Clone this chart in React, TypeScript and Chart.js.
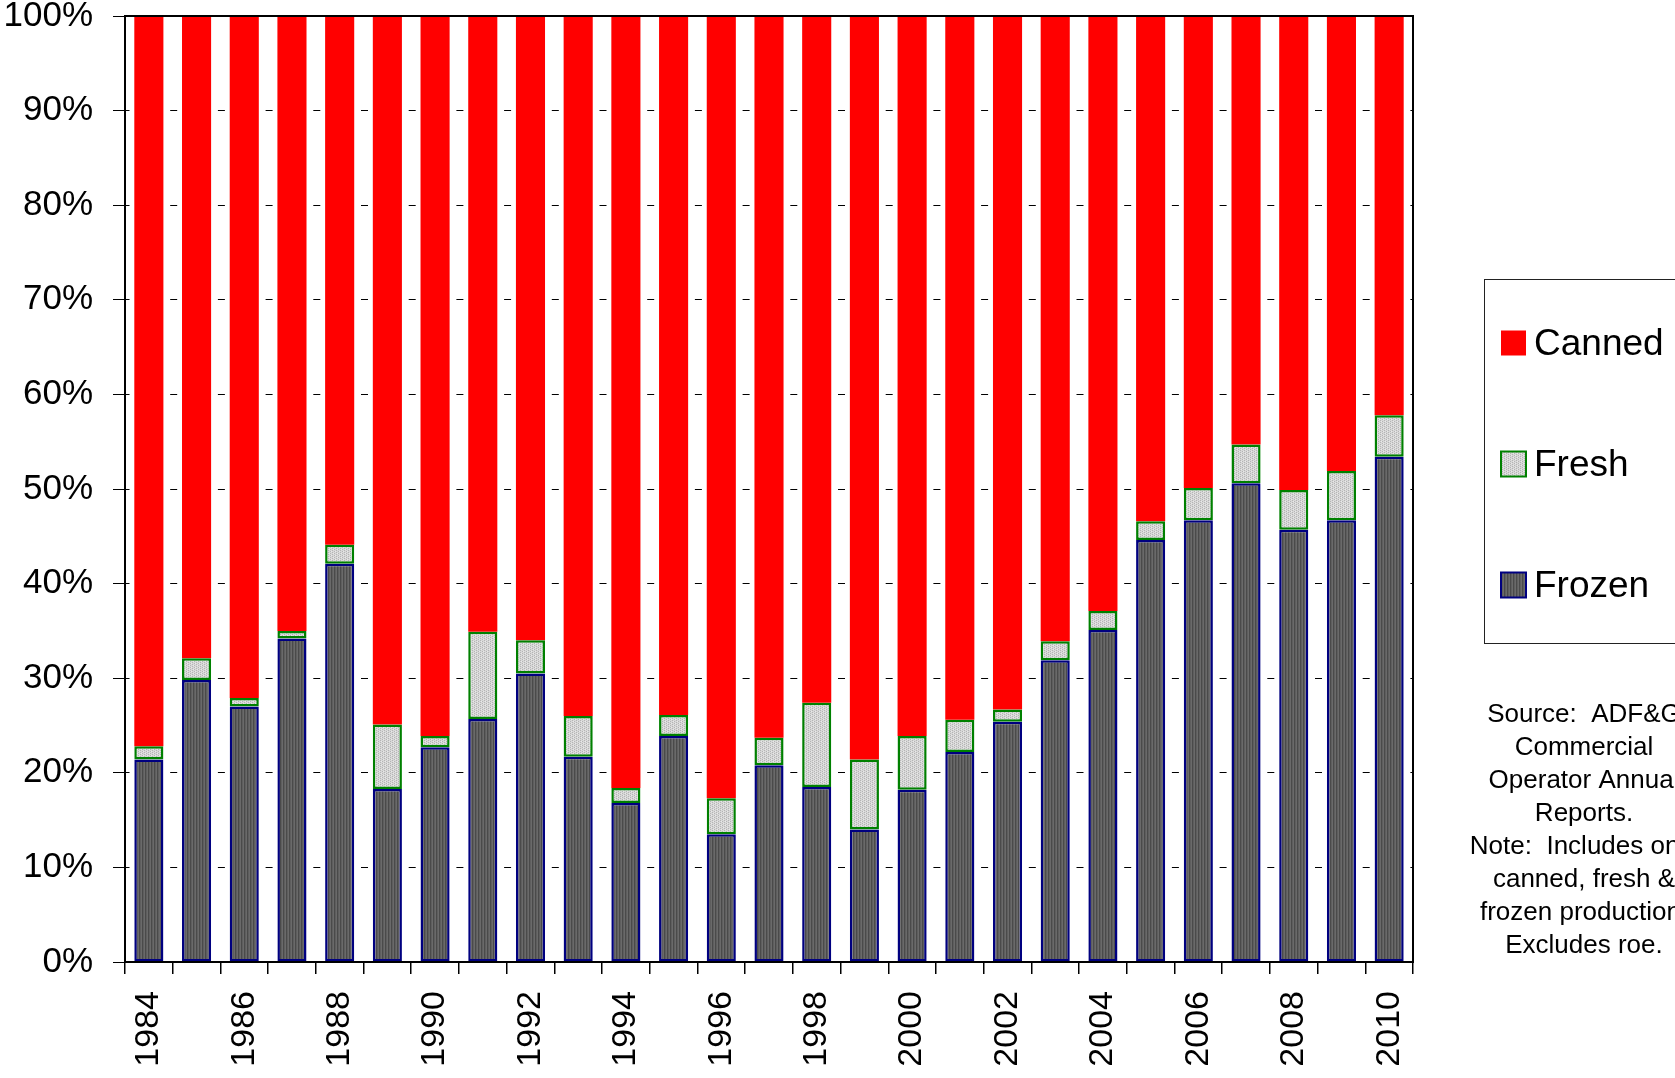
import React, { useEffect, useRef } from "react";
import { Chart, registerables } from "chart.js";

Chart.register(...registerables);

const years = ["1984","1985","1986","1987","1988","1989","1990","1991","1992","1993","1994","1995","1996","1997","1998","1999","2000","2001","2002","2003","2004","2005","2006","2007","2008","2009","2010"];
const frozen = [21.4, 29.8, 27.0, 34.2, 42.1, 18.3, 22.7, 25.7, 30.5, 21.7, 16.8, 23.9, 13.5, 20.8, 18.5, 14.0, 18.2, 22.2, 25.4, 31.9, 35.1, 44.6, 46.7, 50.6, 45.7, 46.7, 53.4];
const fresh = [1.4, 2.3, 0.9, 0.8, 2.0, 6.8, 1.2, 9.2, 3.5, 4.3, 1.6, 2.2, 3.8, 2.9, 8.9, 7.4, 5.7, 3.4, 1.3, 2.0, 2.0, 2.0, 3.4, 4.1, 4.2, 5.2, 4.4];
const canned = [77.2, 67.9, 72.1, 65.0, 55.9, 74.9, 76.1, 65.1, 66.0, 74.0, 81.6, 73.9, 82.7, 76.3, 72.6, 78.6, 76.1, 74.4, 73.3, 66.1, 62.9, 53.4, 49.9, 45.3, 50.1, 48.1, 42.2];
const yTicks = [0, 10, 20, 30, 40, 50, 60, 70, 80, 90, 100];
const noteLines = ["Source:  ADF&G", "Commercial", "Operator Annual", "Reports.", "Note:  Includes only", "canned, fresh &", "frozen production.", "Excludes roe."];

const FONT = "'Liberation Sans', Arial, sans-serif";

function makePattern(kind: "frozen" | "fresh"): CanvasPattern | string {
  const c = document.createElement("canvas");
  const ctx = c.getContext("2d");
  if (!ctx) return kind === "frozen" ? "#5c5c5c" : "#d0d0d0";
  if (kind === "frozen") {
    c.width = 3; c.height = 2;
    const cols = ["#6a6a6a", "#4a4a4a", "#5e5e5e"];
    cols.forEach((col, i) => { ctx.fillStyle = col; ctx.fillRect(i, 0, 1, 2); });
  } else {
    c.width = 4; c.height = 4;
    ctx.fillStyle = "#d8d8d8"; ctx.fillRect(0, 0, 4, 4);
    ctx.fillStyle = "#b4b4b4";
    ctx.fillRect(0, 0, 1, 1); ctx.fillRect(2, 1, 1, 1); ctx.fillRect(0, 2, 1, 1); ctx.fillRect(2, 3, 1, 1);
    ctx.fillStyle = "#e8e8e8";
    ctx.fillRect(1, 1, 1, 1); ctx.fillRect(3, 3, 1, 1);
  }
  return ctx.createPattern(c, "repeat") as CanvasPattern;
}

export default function App() {
  const ref = useRef<HTMLCanvasElement | null>(null);
  useEffect(() => {
    if (!ref.current) return;
    const frozenFill = makePattern("frozen");
    const freshFill = makePattern("fresh");

    const framePlugin = {
      id: "frameAndExtras",
      afterDraw(chart: any) {
        const ctx = chart.ctx as CanvasRenderingContext2D;
        const a = chart.chartArea;
        ctx.save();
        ctx.setLineDash([]);
        ctx.strokeStyle = "#000";
        ctx.lineWidth = 2;
        ctx.strokeRect(a.left, a.top, a.right - a.left, a.bottom - a.top);

        // legend box
        ctx.lineWidth = 1;
        ctx.strokeStyle = "#222";
        ctx.strokeRect(1484.5, 279.5, 260, 364);
        const items = [
          { label: "Canned", ds: chart.data.datasets[2], y: 343 },
          { label: "Fresh", ds: chart.data.datasets[1], y: 464 },
          { label: "Frozen", ds: chart.data.datasets[0], y: 585 },
        ];
        ctx.font = `37px ${FONT}`;
        ctx.textBaseline = "middle";
        ctx.textAlign = "left";
        for (const it of items) {
          const s = 25;
          const x = 1501;
          const top = it.y - s / 2;
          ctx.fillStyle = it.ds.backgroundColor;
          ctx.fillRect(x, top, s, s);
          if (it.ds.borderWidth > 0) {
            ctx.strokeStyle = it.ds.borderColor;
            ctx.lineWidth = 2;
            ctx.strokeRect(x, top, s, s);
          }
          ctx.fillStyle = "#000";
          ctx.fillText(it.label, 1534, it.y + 2);
        }

        // source note
        ctx.font = `26px ${FONT}`;
        ctx.textAlign = "center";
        ctx.textBaseline = "middle";
        ctx.fillStyle = "#000";
        noteLines.forEach((ln, i) => {
          ctx.fillText(ln, 1584, 715 + i * 33);
        });
        ctx.restore();
      },
    };

    const chart = new Chart(ref.current, {
      type: "bar",
      data: {
        labels: years,
        datasets: [
          { label: "Frozen", data: frozen, backgroundColor: frozenFill as any, borderColor: "#000080", borderWidth: 2.5, borderSkipped: false },
          { label: "Fresh", data: fresh, backgroundColor: freshFill as any, borderColor: "#008000", borderWidth: 2.5, borderSkipped: false },
          { label: "Canned", data: canned, backgroundColor: "#ff0000", borderColor: "#ff0000", borderWidth: 0 },
        ],
      },
      options: {
        responsive: false,
        animation: false,
        devicePixelRatio: 1,
        layout: { padding: { top: 16, right: 262, left: 0, bottom: 0 } },
        plugins: { legend: { display: false }, tooltip: { enabled: false } },
        datasets: { bar: { categoryPercentage: 1, barPercentage: 0.61 } },
        scales: {
          x: {
            stacked: true,
            offset: true,
            grid: {
              offset: true,
              drawOnChartArea: false,
              drawTicks: true,
              tickLength: 12,
              color: "#000",
              lineWidth: 1.5,
            },
            border: { display: true, color: "#000", width: 2 },
            ticks: {
              autoSkip: false,
              maxRotation: 90,
              minRotation: 90,
              padding: 17,
              color: "#000",
              font: { family: FONT, size: 34 },
              callback: (_v: any, i: number) => (i % 2 === 0 ? years[i] : ""),
            },
            afterFit: (scale: any) => { scale.height = 116; scale.paddingLeft = 0; scale.paddingRight = 0; },
          },
          y: {
            stacked: true,
            min: 0,
            max: 100,
            afterBuildTicks: (scale: any) => { scale.ticks = yTicks.map((v) => ({ value: v })); },
            grid: {
              color: "#000",
              lineWidth: 1,
              tickLength: 12,
              tickBorderDash: [],
              tickColor: "#000",
            },
            border: { display: true, color: "#000", width: 2, dash: [7, 40.7], dashOffset: 3.5 },
            ticks: {
              padding: 20,
              color: "#000",
              font: { family: FONT, size: 35 },
              callback: (v: any) => `${v}%`,
            },
            afterFit: (scale: any) => { scale.width = 125; scale.paddingTop = 0; scale.paddingBottom = 0; },
          },
        },
      },
      plugins: [framePlugin],
    });
    return () => chart.destroy();
  }, []);

  return (
    <div style={{ position: "fixed", left: 0, top: 0, width: 1675, height: 1078, background: "#fff" }}>
      <canvas ref={ref} width={1675} height={1078} style={{ width: 1675, height: 1078, display: "block" }} />
    </div>
  );
}
